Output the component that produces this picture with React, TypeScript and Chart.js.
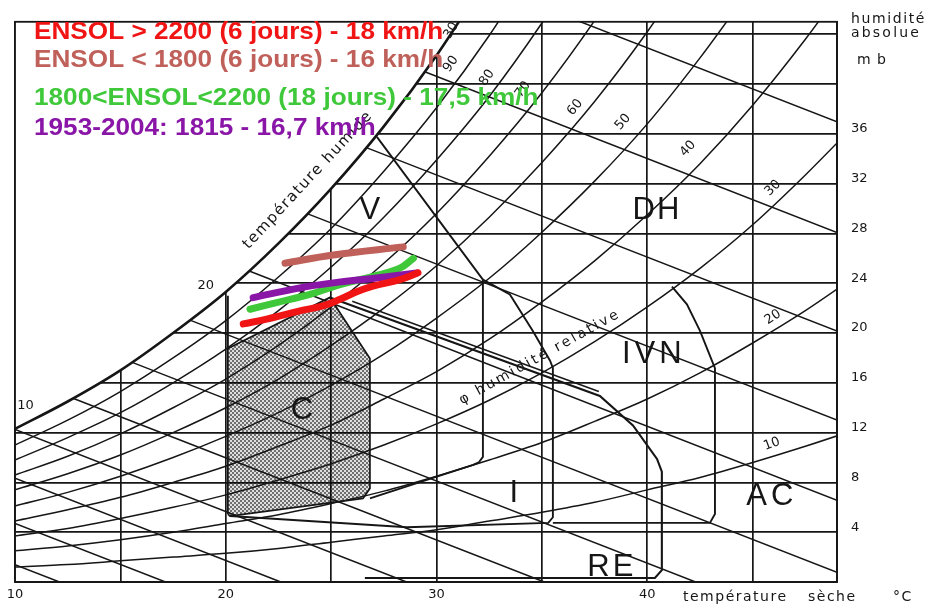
import { useEffect, useRef } from 'react';
import { Chart, registerables } from 'chart.js';

Chart.register(...registerables);

const X_MIN = 10;
const X_MAX = 49;
const Y_MIN = 0;
const Y_MAX = 45;

// grid / tick values
const xGrid = [10, 15, 20, 25, 30, 35, 40, 45];
const xTickLabels = [10, 20, 30, 40];
const yGrid = [0, 4, 8, 12, 16, 20, 24, 28, 32, 36, 40, 44];
const yTickLabels = [4, 8, 12, 16, 20, 24, 28, 32, 36];

// relative humidity curves (absolute humidity in mb at the temperatures of curveT)
const curveT = [10, 12.5, 15, 17.5, 20, 22.5, 25, 27.5, 30, 32.5, 35, 37.5, 40, 42.5, 45, 47.5, 50];
const rh100 = [12.3, 14.5, 17.0, 20.0, 23.3, 27.2, 31.6, 36.6, 42.3, 48.8];
const rh90 = [11.0, 13.0, 15.3, 18.0, 21.0, 24.5, 28.4, 33.0, 38.1, 43.9, 50.5];
const rh80 = [9.8, 11.6, 13.6, 16.0, 18.7, 21.8, 25.3, 29.3, 33.9, 39.0, 44.9, 51.5];
const rh70 = [8.6, 10.1, 11.9, 14.0, 16.3, 19.0, 22.1, 25.6, 29.6, 34.2, 39.3, 45.1, 51.6];
const rh60 = [7.4, 8.7, 10.2, 12.0, 14.0, 16.3, 19.0, 22.0, 25.4, 29.3, 33.7, 38.6, 44.2, 50.5];
const rh50 = [6.1, 7.2, 8.5, 10.0, 11.7, 13.6, 15.8, 18.3, 21.2, 24.4, 28.1, 32.2, 36.8, 42.1, 47.9];
const rh40 = [4.9, 5.8, 6.8, 8.0, 9.3, 10.9, 12.6, 14.7, 16.9, 19.5, 22.5, 25.8, 29.5, 33.6, 38.3, 43.6, 49.4];
const rh30 = [3.7, 4.3, 5.1, 6.0, 7.0, 8.2, 9.5, 11.0, 12.7, 14.6, 16.8, 19.3, 22.1, 25.2, 28.7, 32.7, 37.0];
const rh20 = [2.5, 2.9, 3.4, 4.0, 4.7, 5.4, 6.3, 7.3, 8.5, 9.8, 11.2, 12.9, 14.7, 16.8, 19.2, 21.8, 24.7];
const rh10 = [1.2, 1.4, 1.7, 2.0, 2.3, 2.7, 3.2, 3.7, 4.2, 4.9, 5.6, 6.4, 7.4, 8.4, 9.6, 10.9, 12.3];

// wet-bulb temperature lines (start / end points)
const wbStartT = [10, 10, 10, 10, 12.78, 15.56, 18.33, 21.11, 23.89, 26.67, 29.44, 32.22];
const wbStartE = [1.39, 4.71, 8.33, 12.26, 14.74, 17.64, 21.02, 24.98, 29.57, 34.89, 40.99, 48.04];
const wbEndT = [12.11, 17.14, 22.61, 28.58, 35.11, 42.29, 49, 49, 49, 49, 49, 49];
const wbEndE = [0, 0, 0, 0, 0, 0, 0.78, 6.57, 13.0, 20.15, 28.08, 36.97];

// bioclimatic zones (outlines)
const zoneCT = [20.1, 20.1, 24.94, 26.84, 26.84, 26.51, 20.2, 20.1];
const zoneCE = [5.46, 18.75, 22.86, 17.96, 7.52, 6.72, 5.3, 5.46];
const zoneVLeftT = [20.1, 20.1];
const zoneVLeftE = [18.75, 23.0];
const zoneVRightT = [27.17, 32.2, 32.2, 32.0, 31.73, 26.84];
const zoneVRightE = [35.76, 24.29, 10.05, 9.6, 9.41, 6.72];
const zoneIT = [32.2, 33.48, 34.57, 35.38, 35.52, 35.52, 35.3, 28.6, 20.2];
const zoneIE = [24.29, 23.1, 20.17, 17.8, 17.2, 5.2, 4.75, 4.4, 5.3];
const zoneIVNT = [41.17, 41.88, 42.5, 43.06, 43.21, 43.21, 42.97, 35.52];
const zoneIVNE = [23.73, 22.31, 20.17, 17.8, 17.17, 5.46, 4.75, 4.75];
const zoneRET = [24.94, 37.75, 39.32, 40.46, 40.69, 40.69, 40.36, 26.6];
const zoneREE = [22.86, 14.95, 12.58, 9.89, 8.86, 0.95, 0.32, 0.32];
const zoneRE2T = [26.0, 37.7];
const zoneRE2E = [22.55, 15.3];

// observed series
const redT = [20.83, 21.94, 23.52, 24.61, 25.42, 26.21, 26.98, 28.26, 29.12];
const redE = [20.73, 21.12, 21.78, 22.18, 22.71, 23.31, 23.76, 24.29, 24.84];
const roseT = [22.81, 25.1, 28.42];
const roseE = [25.61, 26.27, 26.92];
const greenT = [21.15, 22.41, 23.99, 25.42, 27.0, 28.26, 28.9];
const greenE = [21.91, 22.44, 23.1, 23.89, 24.55, 25.21, 26.0];
const purpleT = [21.3, 23.52, 25.1, 27.16, 29.06];
const purpleE = [22.84, 23.63, 24.03, 24.42, 24.82];

const legendTexts = [
  'ENSOL > 2200 (6 jours) - 18 km/h',
  'ENSOL < 1800 (6 jours) - 16 km/h',
  '1800<ENSOL<2200 (18 jours) - 17,5 km/h',
  '1953-2004: 1815 - 16,7 km/h',
];

const INK = '#161616';
const RED = '#f01414';
const ROSE = '#c0605a';
const GREEN = '#3ec83a';
const PURPLE = '#8a16a8';

const pts = (xs: number[], ys: number[]) => ys.map((y, i) => ({ x: xs[i], y }));

function drawText(
  ctx: CanvasRenderingContext2D,
  s: string,
  x: number,
  y: number,
  font: string,
  color: string,
  angle = 0,
  align: CanvasTextAlign = 'center',
  spacing = 0,
  sx = 1,
  baseline: CanvasTextBaseline = 'middle'
) {
  ctx.save();
  ctx.translate(x, y);
  if (angle) ctx.rotate((angle * Math.PI) / 180);
  if (sx !== 1) ctx.scale(sx, 1);
  ctx.font = font;
  ctx.fillStyle = color;
  ctx.textAlign = align;
  ctx.textBaseline = baseline;
  (ctx as any).letterSpacing = spacing + 'px';
  ctx.fillText(s, 0, 0);
  ctx.restore();
}

const annotations = {
  id: 'annotations',
  afterDatasetsDraw(chart: any) {
    const { ctx, chartArea: a, scales } = chart;
    const px = (t: number) => scales.x.getPixelForValue(t);
    const py = (e: number) => scales.y.getPixelForValue(e);
    ctx.save();
    // frame
    ctx.strokeStyle = INK;
    ctx.lineWidth = 1.8;
    ctx.strokeRect(a.left, a.top, a.right - a.left, a.bottom - a.top);

    const zoneFont = '31px "Liberation Sans"';
    const zones: [string, number, number, number][] = [
      ['V', 26.84, 29.83, 0],
      ['DH', 40.46, 29.83, 2],
      ['IVN', 40.31, 18.28, 4],
      ['C', 23.61, 13.77, 0],
      ['I', 33.67, 7.12, 0],
      ['AC', 45.91, 6.88, 4],
      ['RE', 38.32, 1.2, 3],
    ];
    zones.forEach(([s, t, e, sp]) => drawText(ctx, s, px(t), py(e), zoneFont, INK, 0, 'center', sp));

    // relative humidity labels
    const small = '13px "DejaVu Sans"';
    const rhLabels: [string, number, number, number][] = [
      ['90', 30.68, 41.61, -56],
      ['80', 32.39, 40.51, -55],
      ['70', 34.1, 39.56, -54],
      ['60', 36.57, 38.13, -51],
      ['50', 38.84, 36.95, -49],
      ['40', 41.93, 34.81, -48],
      ['30', 45.96, 31.65, -44],
      ['20', 45.96, 21.28, -33],
      ['10', 45.91, 11.08, -20],
    ];
    rhLabels.forEach(([s, t, e, ang]) => drawText(ctx, s, px(t), py(e), small, INK, ang));

    // wet bulb labels on saturation curve
    drawText(ctx, '10', px(10.5), py(14.2), small, INK);
    drawText(ctx, '20', px(19.05), py(23.8), small, INK);
    drawText(ctx, '30', px(30.7), py(44.3), small, INK, -60);

    drawText(ctx, 'température humide', 308, 180, '15px "DejaVu Sans"', INK, -47, 'center', 1.5);
    drawText(ctx, 'φ humidité relative', 540, 357, '14px "DejaVu Sans"', INK, -29, 'center', 2.6);

    // axis titles
    const axisFont = '14px "DejaVu Sans"';
    drawText(ctx, 'température', 683, 597, axisFont, INK, 0, 'left', 1.5);
    drawText(ctx, 'sèche', 808, 597, axisFont, INK, 0, 'left', 1.5);
    drawText(ctx, '°C', 893, 597, axisFont, INK, 0, 'left', 1.5);
    drawText(ctx, 'humidité', 851, 19, axisFont, INK, 0, 'left', 1.6);
    drawText(ctx, 'absolue', 851, 33, axisFont, INK, 0, 'left', 2.2);
    drawText(ctx, 'm b', 857, 60, axisFont, INK, 0, 'left', 1);

    // legend
    const legendColors = [RED, ROSE, GREEN, PURPLE];
    const legendY = [39, 67, 105, 135];
    legendTexts.forEach((s, i) =>
      drawText(ctx, s, 34, legendY[i], 'bold 24px "Liberation Sans"', legendColors[i], 0, 'left', 0, 1.09, 'alphabetic')
    );
    ctx.restore();
  },
};

export default function App() {
  const ref = useRef<HTMLCanvasElement | null>(null);

  useEffect(() => {
    const canvas = ref.current;
    if (!canvas) return;
    const ctx = canvas.getContext('2d')!;

    // stippled pattern for the comfort zone
    const pc = document.createElement('canvas');
    pc.width = 4;
    pc.height = 4;
    const p = pc.getContext('2d')!;
    p.fillStyle = 'rgba(0,0,0,0.13)';
    p.fillRect(0, 0, 4, 4);
    p.fillStyle = 'rgba(0,0,0,0.5)';
    p.fillRect(0, 0, 2, 2);
    p.fillRect(2, 2, 2, 2);
    const pattern = ctx.createPattern(pc, 'repeat');

    const thin = (data: any[], order = 40, width = 1.5) => ({
      data,
      showLine: true,
      borderColor: INK,
      borderWidth: width,
      pointRadius: 0,
      fill: false,
      order,
    });
    const curve = (vals: number[]) => ({ ...thin(pts(curveT, vals)), cubicInterpolationMode: 'monotone' });

    const wetBulb = wbStartT.map((t, i) =>
      thin([{ x: t, y: wbStartE[i] }, { x: wbEndT[i], y: wbEndE[i] }], 40, 1.5)
    );

    const series = (xs: number[], ys: number[], color: string, order: number) => ({
      data: pts(xs, ys),
      showLine: true,
      borderColor: color,
      borderWidth: 7,
      borderCapStyle: 'round',
      borderJoinStyle: 'round',
      tension: 0.4,
      pointRadius: 0,
      fill: false,
      order,
    });

    const chart = new Chart(canvas, {
      type: 'scatter',
      data: {
        datasets: [
          {
            ...thin(pts(zoneCT, zoneCE), 60, 1.7),
            fill: 'shape',
            backgroundColor: pattern as any,
          },
          {
            ...curve(rh100),
            borderWidth: 2.6,
            fill: 'end',
            backgroundColor: '#ffffff',
            order: 55,
          },
          curve(rh90),
          curve(rh80),
          curve(rh70),
          curve(rh60),
          curve(rh50),
          curve(rh40),
          curve(rh30),
          curve(rh20),
          curve(rh10),
          ...wetBulb,
          thin(pts(zoneVLeftT, zoneVLeftE), 30, 1.9),
          thin(pts(zoneVRightT, zoneVRightE), 30, 1.9),
          thin(pts(zoneIT, zoneIE), 30, 1.9),
          thin(pts(zoneIVNT, zoneIVNE), 30, 1.9),
          thin(pts(zoneRET, zoneREE), 30, 2.1),
          thin(pts(zoneRE2T, zoneRE2E), 30, 1.4),
          series(roseT, roseE, ROSE, 3),
          series(greenT, greenE, GREEN, 2),
          series(purpleT, purpleE, PURPLE, 1),
          series(redT, redE, RED, 0),
        ] as any,
      },
      options: {
        animation: false,
        responsive: false,
        devicePixelRatio: 1,
        events: [],
        layout: { padding: { left: 15, top: 13, right: 0, bottom: 0 } },
        plugins: { legend: { display: false }, tooltip: { enabled: false } },
        scales: {
          x: {
            type: 'linear',
            position: 'bottom',
            min: X_MIN,
            max: X_MAX,
            afterBuildTicks: (s: any) => {
              s.ticks = xGrid.map((v) => ({ value: v }));
            },
            afterFit: (s: any) => {
              s.height = 25;
            },
            grid: { color: INK, lineWidth: 1.7, drawTicks: false },
            border: { display: true, color: INK, width: 1.8 },
            ticks: {
              autoSkip: false,
              maxRotation: 0,
              padding: 5,
              color: INK,
              font: { family: 'DejaVu Sans', size: 13 },
              callback: (v: any) => (xTickLabels.includes(Number(v)) ? String(v) : ''),
            },
          },
          y: {
            type: 'linear',
            position: 'right',
            min: Y_MIN,
            max: Y_MAX,
            afterBuildTicks: (s: any) => {
              s.ticks = yGrid.map((v) => ({ value: v }));
            },
            afterFit: (s: any) => {
              s.width = 95;
            },
            grid: { color: INK, lineWidth: 1.7, drawTicks: false },
            border: { display: true, color: INK, width: 1.8 },
            ticks: {
              autoSkip: false,
              padding: 14,
              labelOffset: -5,
              color: INK,
              font: { family: 'DejaVu Sans', size: 13 },
              callback: (v: any) => (yTickLabels.includes(Number(v)) ? String(v) : ''),
            },
          },
        },
      } as any,
      plugins: [annotations],
    });

    return () => chart.destroy();
  }, []);

  return (
    <div style={{ position: 'fixed', left: 0, top: 0, width: 932, height: 607, background: '#fff' }}>
      <canvas ref={ref} width={932} height={607} style={{ display: 'block', width: 932, height: 607 }} />
    </div>
  );
}
